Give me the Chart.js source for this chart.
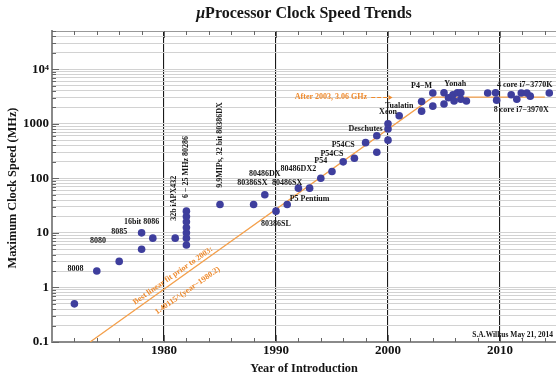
<!DOCTYPE html>
<html>
<head>
<meta charset="utf-8">
<script src="https://cdn.jsdelivr.net/npm/chart.js@4.4.0/dist/chart.umd.min.js"></script>
<style>
  html, body { margin: 0; padding: 0; background: #fff; overflow: hidden; }
  #wrap { width: 560px; height: 374px; }
</style>
</head>
<body>
<div id="wrap"><canvas id="chart" width="560" height="374"></canvas></div>
<script>
// processors: year of introduction and max clock speed (MHz)
const years = [1972, 1974, 1976, 1978, 1978, 1979, 1981,
  1982, 1982, 1982, 1982, 1982, 1982, 1982,
  1985, 1988, 1989, 1990, 1991, 1992, 1993, 1994, 1995, 1996, 1997,
  1998, 1999, 1999, 2000, 2000, 2000, 2001,
  2003, 2003, 2004, 2004, 2005, 2005, 2005.4, 2005.8, 2005.9, 2006.2, 2006.5, 2006.5, 2007,
  2008.9, 2009.6, 2009.7, 2011, 2011.5, 2011.9, 2012.4, 2012.7, 2014.4];
const speeds = [0.5, 2, 3, 10, 5, 8, 8,
  6, 8, 10, 12.5, 16, 20, 25,
  33, 33, 50, 25, 33, 66, 66, 100, 133, 200, 233,
  450, 300, 600, 500, 800, 1000, 1400,
  1700, 2550, 2100, 3650, 3700, 2300, 3000, 3400, 2600, 3700, 3700, 2800, 2600,
  3650, 3700, 2700, 3400, 2800, 3650, 3650, 3200, 3650];

// orange trend: fit 1.40115^(year-1980.2) until it meets 3.06 GHz
const fitYears = [1973.4, 2004.0, 2014.0];
const fitSpeeds = [0.1, 3060, 3060];

const xTickYears = [1972, 1974, 1976, 1978, 1980, 1982, 1984, 1986, 1988, 1990, 1992, 1994,
  1996, 1998, 2000, 2002, 2004, 2006, 2008, 2010, 2012, 2014];
const xLabelYears = [1980, 1990, 2000, 2010];
const yDecades = [0.1, 1, 10, 100, 1000, 10000];
const yTickLabels = ["0.1", "1", "10", "100", "1000", "10\u2074"];

const serif = "'Liberation Serif', 'Times New Roman', serif";

// text placed in data space
const notes = [
  { text: "8008", x: 1972.1, y: 2.17 },
  { text: "8080", x: 1974.1, y: 7.1 },
  { text: "8085", x: 1976.0, y: 10.3 },
  { text: "16bit 8086", x: 1978.0, y: 15.9 },
  { text: "32b iAPX432", x: 1980.9, y: 43, rot: -90 },
  { text: "6 \u2212 25 MHz 80286", x: 1982.0, y: 161, rot: -90 },
  { text: "9.9MIPs, 32 bit 80386DX", x: 1985.0, y: 406, rot: -90 },
  { text: "80486DX", x: 1989.0, y: 118 },
  { text: "80386SX", x: 1987.9, y: 81 },
  { text: "80486SX", x: 1991.0, y: 81 },
  { text: "80486DX2", x: 1992.0, y: 146 },
  { text: "P54", x: 1994.0, y: 207 },
  { text: "P54CS", x: 1995.0, y: 282 },
  { text: "P54CS", x: 1996.0, y: 401 },
  { text: "Deschutes", x: 1998.0, y: 787 },
  { text: "Xeon", x: 2000.0, y: 1630 },
  { text: "Tualatin", x: 2001.0, y: 2090 },
  { text: "P5 Pentium", x: 1993.0, y: 41 },
  { text: "80386SL", x: 1990.0, y: 14.4 },
  { text: "P4\u2212M", x: 2003.0, y: 4870 },
  { text: "Yonah", x: 2006.0, y: 5360 },
  { text: "4 core i7\u22123770K", x: 2012.2, y: 5230 },
  { text: "8 core i7\u22123970X", x: 2011.9, y: 1775 },
  { text: "After 2003, 3.06 GHz", x: 1994.9, y: 3130, color: "#ef8a2c" },
  { text: "Best linear fit prior to 2003:", x: 1980.8, y: 1.64, rot: -35, color: "#ef8a2c" },
  { text: "1.40115^(year\u22121980.2)", x: 1982.1, y: 0.87, rot: -35, color: "#ef8a2c" }
];

const decor = {
  id: "decor",
  afterDatasetsDraw(chart) {
    const { ctx, chartArea: a, scales: { x, y } } = chart;
    ctx.save();

    // top frame line
    ctx.strokeStyle = "#999";
    ctx.lineWidth = 1;
    ctx.beginPath();
    ctx.moveTo(a.left, a.top + 0.5);
    ctx.lineTo(a.right, a.top + 0.5);
    ctx.stroke();

    // inward tick marks
    ctx.strokeStyle = "#666";
    ctx.beginPath();
    xTickYears.forEach(yr => {
      const px = Math.round(x.getPixelForValue(yr)) + 0.5;
      const len = xLabelYears.includes(yr) ? 7 : 4;
      ctx.moveTo(px, a.bottom);
      ctx.lineTo(px, a.bottom - len);
      ctx.moveTo(px, a.top);
      ctx.lineTo(px, a.top + len);
    });
    y.ticks.forEach(t => {
      const py = Math.round(y.getPixelForValue(t.value)) + 0.5;
      const len = yDecades.includes(t.value) ? 7 : 4;
      ctx.moveTo(a.left, py);
      ctx.lineTo(a.left + len, py);
    });
    ctx.stroke();

    // annotations
    ctx.font = `bold 8px ${serif}`;
    ctx.textAlign = "center";
    ctx.textBaseline = "middle";
    notes.forEach(n => {
      ctx.save();
      ctx.translate(x.getPixelForValue(n.x), y.getPixelForValue(n.y));
      if (n.rot) ctx.rotate(n.rot * Math.PI / 180);
      ctx.fillStyle = n.color || "#151515";
      ctx.fillText(n.text, 0, 0);
      ctx.restore();
    });

    // dashed arrow after the 3.06 GHz note
    const ay = Math.round(y.getPixelForValue(3130)) + 0.5;
    const ax0 = x.getPixelForValue(1998.5), ax1 = x.getPixelForValue(2000.4);
    ctx.strokeStyle = "#ef8a2c";
    ctx.fillStyle = "#ef8a2c";
    ctx.setLineDash([4, 2]);
    ctx.beginPath();
    ctx.moveTo(ax0, ay);
    ctx.lineTo(ax1 - 3, ay);
    ctx.stroke();
    ctx.setLineDash([]);
    ctx.beginPath();
    ctx.moveTo(ax1, ay);
    ctx.lineTo(ax1 - 4, ay - 2.5);
    ctx.lineTo(ax1 - 4, ay + 2.5);
    ctx.closePath();
    ctx.fill();

    // signature
    ctx.fillStyle = "#151515";
    ctx.font = `bold 7.5px ${serif}`;
    ctx.textAlign = "right";
    ctx.fillText("S.A.Wilkus May 21, 2014", 553, a.bottom - 7);

    // titles
    ctx.textAlign = "left";
    ctx.font = `bold 16px ${serif}`;
    const rest = "Processor Clock Speed Trends";
    const w = ctx.measureText(rest).width;
    ctx.font = `italic bold 16px ${serif}`;
    const wm = ctx.measureText("\u03bc").width;
    const cx = (a.left + a.right) / 2;
    const tx = cx - (w + wm) / 2;
    ctx.fillText("\u03bc", tx, 14);
    ctx.font = `bold 16px ${serif}`;
    ctx.fillText(rest, tx + wm, 14);

    ctx.textAlign = "center";
    ctx.font = `bold 12.3px ${serif}`;
    ctx.fillText("Year of Introduction", cx, 369);
    ctx.save();
    ctx.translate(13, 188);
    ctx.rotate(-Math.PI / 2);
    ctx.fillText("Maximum Clock Speed (MHz)", 0, 0);
    ctx.restore();

    ctx.restore();
  }
};

new Chart(document.getElementById("chart"), {
  type: "scatter",
  data: {
    datasets: [
      {
        label: "processors",
        data: years.map((yr, i) => ({ x: yr, y: speeds[i] })),
        backgroundColor: "#3e3e9d",
        borderWidth: 0,
        pointRadius: 3.8,
        order: 1
      },
      {
        label: "trend",
        data: fitYears.map((yr, i) => ({ x: yr, y: fitSpeeds[i] })),
        showLine: true,
        borderColor: "#f4a04c",
        borderWidth: 1.3,
        pointRadius: 0,
        order: 2
      }
    ]
  },
  options: {
    responsive: false,
    animation: false,
    events: [],
    layout: { padding: { top: 31, right: 2, left: 0, bottom: 0 } },
    plugins: { legend: { display: false }, tooltip: { enabled: false } },
    scales: {
      x: {
        type: "linear",
        min: 1970,
        max: 2015,
        afterFit: s => { s.height = 32; },
        afterBuildTicks: s => { s.ticks = xTickYears.map(v => ({ value: v })); },
        ticks: {
          autoSkip: false,
          maxRotation: 0,
          padding: 1,
          color: "#111",
          font: { family: serif, size: 13, weight: "bold" },
          callback: v => xLabelYears.includes(v) ? String(v) : ""
        },
        grid: {
          drawTicks: false,
          color: c => xLabelYears.includes(c.tick && c.tick.value) ? "#1a1a1a" : "rgba(0,0,0,0)",
          lineWidth: 1.1
        },
        border: { display: true, color: "#8a8a8a", width: 2 }
      },
      y: {
        type: "logarithmic",
        min: 0.1,
        max: 50000,
        afterFit: s => { s.width = 52; },
        afterBuildTicks: s => {
          const t = [];
          yDecades.forEach(d => {
            for (let k = 1; k <= 9; k++) {
              const v = Number((d * k).toPrecision(3));
              if (v <= 50000) t.push({ value: v });
            }
          });
          s.ticks = t;
        },
        ticks: {
          autoSkip: false,
          padding: 3,
          color: "#111",
          font: { family: serif, size: 13, weight: "bold" },
          callback: v => {
            const i = yDecades.indexOf(v);
            return i >= 0 ? yTickLabels[i] : "";
          }
        },
        grid: { drawTicks: false, color: "#d2d2d2", lineWidth: 1 },
        border: { display: true, color: "#8a8a8a", width: 2 }
      }
    }
  },
  plugins: [decor]
});
</script>
</body>
</html>
